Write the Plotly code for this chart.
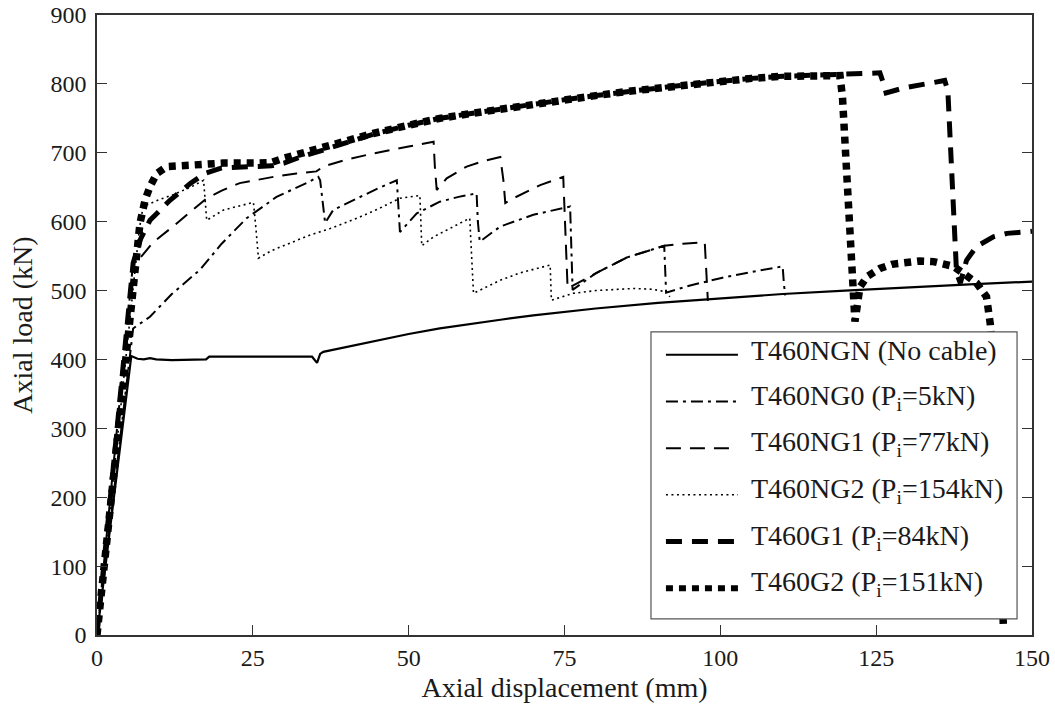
import plotly.graph_objects as go

# Axial load-displacement curves of the T460 specimens (mm, kN)
ngn_x = [0, 5.5, 6.5, 7.5, 8.5, 9.5, 12, 15, 17.5, 18, 20, 25, 30, 34.5, 35.3, 35.8, 36.3,
         40, 45, 50, 55, 60, 65, 70, 75, 80, 90, 100, 110, 120, 130, 140, 150]
ngn_y = [0, 405, 401, 400, 402, 400, 399, 400, 400, 404, 404, 404, 404, 404, 395, 408, 411,
         418, 428, 437, 445, 452, 458, 464, 469, 474, 482, 489, 495, 500, 505, 509, 513]

ng0_x = [0, 5.8, 8.5, 12, 16.5, 20, 24, 28.8, 33.6, 35.5, 35.8, 36.6, 37.9, 41.7, 45, 48.1,
         48.4, 48.6, 51.3, 55, 58, 60.9, 61.1, 61.4, 64.7, 70, 75.9, 76.1, 76.3, 80, 85, 91,
         91.1, 91.3, 95, 100, 105, 110, 110.2, 110.4]
ng0_y = [0, 445, 462, 495, 530, 568, 605, 636, 656, 665, 660, 598, 617, 634, 648, 660,
         620, 585, 612, 629, 636, 641, 600, 571, 593, 610, 622, 560, 501, 525, 548, 565,
         530, 497, 507, 518, 527, 535, 510, 493]

ng1_x = [0, 5.8, 6.9, 9, 12.2, 15, 17.6, 20, 22.9, 28.3, 32, 35.2, 36.3, 40, 44.3, 50, 54,
         54.2, 54.5, 56.1, 59.3, 62, 64.7, 65.2, 65.5, 66.8, 71.1, 74.8, 75.2, 75.5, 80, 85,
         91, 94, 97.5, 97.8, 98]
ng1_y = [0, 541, 547, 570, 593, 615, 634, 645, 656, 665, 670, 673, 680, 690, 699, 709, 716,
         680, 646, 663, 680, 688, 694, 660, 627, 634, 653, 665, 580, 503, 525, 548,
         565, 568, 570, 520, 485]

ng2_x = [0, 6.8, 7.4, 10, 12.2, 15, 17.1, 17.3, 17.6, 20.3, 23, 25.1, 25.5, 25.9, 28, 31, 34,
         37.4, 41.7, 45, 48.6, 51.8, 51.95, 52.1, 54, 57, 59.8, 60.1, 60.4, 64.7, 68, 72.7,
         72.8, 72.9, 76.4, 80, 86, 89, 91.4, 91.9]
ng2_y = [0, 590, 622, 632, 639, 650, 660, 630, 602, 617, 623, 628, 590, 547, 558, 569, 580,
         590, 605, 618, 634, 638, 600, 565, 578, 592, 605, 550, 496, 515, 526, 537,
         510, 486, 496, 500, 503, 502, 498, 491]

g1_x = [0, 5.8, 7, 8.5, 11.7, 14.9, 17.3, 20, 25, 28, 30, 33, 36.3, 40, 44.3, 50, 55, 60, 65,
        70, 75, 80, 85, 90, 95, 100, 105, 110, 115, 119, 122, 125.6, 126.2, 126.6, 129.4,
        132, 136, 136.5, 137.9, 138.5, 139.5, 141.1, 143.8, 146, 150]
g1_y = [0, 540, 575, 602, 631, 655, 670, 678, 680, 681, 685, 695, 704, 714, 727, 740, 750,
        757, 764, 770, 777, 783, 789, 794, 799, 804, 808, 811, 813, 814, 815, 816, 800, 787,
        794, 798, 805, 790, 525, 511, 544, 564, 578, 583, 586]

g2_x = [0, 5.0, 5.8, 6.4, 6.9, 7.7, 8.5, 9.6, 11.2, 14.9, 20.3, 25.6, 28, 29.9, 33, 36.3, 40,
        44.3, 50, 55, 60, 65, 70, 75, 80, 85, 90, 95, 100, 105, 110, 115, 119.2, 119.6, 120.3,
        121.1, 121.6, 122, 122.4, 123.5, 125.6, 127.5, 129.9, 132, 134.2, 136, 137.4, 139,
        141.1, 142.7, 143.3, 144.5, 145.4]
g2_y = [0, 440, 505, 549, 598, 631, 651, 670, 680, 682, 685, 685, 686, 692, 700, 709, 718,
        728, 740, 750, 757, 764, 770, 777, 783, 789, 794, 799, 804, 808, 811, 813, 812, 780,
        650, 505, 455, 480, 505, 520, 532, 538, 542, 543, 542, 539, 535, 525, 511, 491, 452,
        300, 14]

labels = [
    "T460NGN (No cable)",
    "T460NG0 (P<sub>i</sub>=5kN)",
    "T460NG1 (P<sub>i</sub>=77kN)",
    "T460NG2 (P<sub>i</sub>=154kN)",
    "T460G1 (P<sub>i</sub>=84kN)",
    "T460G2 (P<sub>i</sub>=151kN)",
]

x_ticks = [0, 25, 50, 75, 100, 125, 150]
y_ticks = [0, 100, 200, 300, 400, 500, 600, 700, 800, 900]

series = [(ngn_x, ngn_y), (ng0_x, ng0_y), (ng1_x, ng1_y),
          (ng2_x, ng2_y), (g1_x, g1_y), (g2_x, g2_y)]
styles = [
    dict(width=2.2, dash="solid"),
    dict(width=2.0, dash="12px,5px,3px,5px"),
    dict(width=2.0, dash="15px,9px"),
    dict(width=1.6, dash="2px,3.5px"),
    dict(width=5.0, dash="16px,10px"),
    dict(width=7.5, dash="7px,6px"),
]

FONT = "Liberation Serif, Times New Roman, serif"
AX = "#333333"
TXT = "#1a1a1a"

fig = go.Figure()
for (xs, ys), st, name in zip(series, styles, labels):
    fig.add_trace(go.Scatter(x=xs, y=ys, mode="lines", name=name, showlegend=False,
                             line=dict(color="black", width=st["width"], dash=st["dash"])))

# Legend box drawn on top of the curves
box = dict(x0=0.5925, x1=0.984, y0=0.026, y1=0.489)
shapes = [dict(type="rect", xref="paper", yref="paper", layer="above",
               fillcolor="white", line=dict(color="#555555", width=1.2), **box)]
annotations = []
row_top = 0.452
row_step = 0.0753
for i, (st, name) in enumerate(zip(styles, labels)):
    yc = row_top - i * row_step
    sample_w = min(st["width"], 6)
    shapes.append(dict(type="line", xref="paper", yref="paper", layer="above",
                       x0=0.6085, x1=0.6855, y0=yc, y1=yc,
                       line=dict(color="black", width=sample_w, dash=st["dash"])))
    annotations.append(dict(xref="paper", yref="paper", x=0.6975, y=yc + 0.007,
                            xanchor="left", yanchor="middle", showarrow=False,
                            text=name, font=dict(family=FONT, size=28, color=TXT)))

fig.update_layout(
    width=1055, height=717,
    margin=dict(l=97, r=23, t=15, b=82, autoexpand=False),
    paper_bgcolor="white", plot_bgcolor="white",
    font=dict(family=FONT, color=TXT),
    shapes=shapes, annotations=annotations,
    showlegend=False,
)
fig.update_xaxes(range=[0, 150], tickvals=x_ticks, ticks="inside", ticklen=10,
                 tickcolor=AX, tickwidth=1, showline=True, linecolor=AX, linewidth=1.5,
                 mirror=True, showgrid=False, zeroline=False, automargin=False,
                 tickfont=dict(family=FONT, size=24, color=TXT),
                 title=dict(text="Axial displacement (mm)",
                            font=dict(family=FONT, size=28, color=TXT), standoff=8))
fig.update_yaxes(range=[0, 900], tickvals=y_ticks, ticks="inside", ticklen=10,
                 tickcolor=AX, tickwidth=1, showline=True, linecolor=AX, linewidth=1.5,
                 mirror="ticks", showgrid=False, zeroline=False, automargin=False,
                 ticklabelstandoff=4,
                 tickfont=dict(family=FONT, size=24, color=TXT),
                 title=dict(text="Axial load (kN)",
                            font=dict(family=FONT, size=28, color=TXT), standoff=10))

fig.write_html("out.html")
